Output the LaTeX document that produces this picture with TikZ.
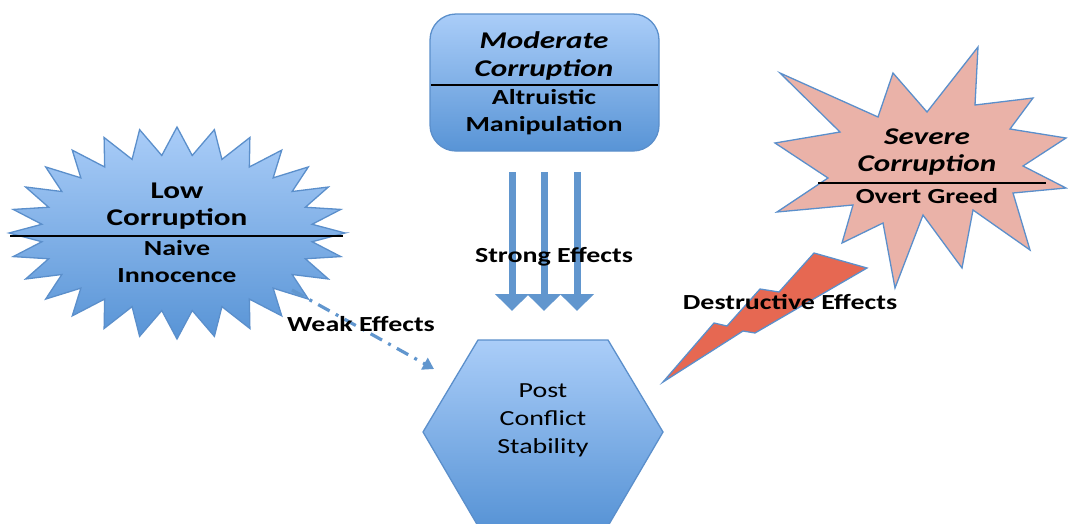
\documentclass[tikz,border=0pt]{standalone}
\usepackage{fontspec}
\newfontfamily\calw[FakeStretch=1.3]{Carlito}
\usetikzlibrary{arrows.meta}
\definecolor{bordblue}{RGB}{91,143,203}
\definecolor{lightblue}{RGB}{170,205,248}
\definecolor{darkblue}{RGB}{88,148,214}
\definecolor{arrblue}{RGB}{97,150,206}
\definecolor{pinkfill}{RGB}{234,178,168}
\definecolor{boltred}{RGB}{230,104,82}
\begin{document}
\begin{tikzpicture}[x=1pt,y=-1pt,
  shapefill/.style={top color=lightblue,bottom color=darkblue,draw=bordblue,line width=1.3pt,line join=miter},
  divider/.style={draw=black,line width=1.8pt},
  txt/.style={font=\calw\fontsize{21.5}{27}\selectfont\bfseries,align=center,inner sep=0pt},
  ttxt/.style={font=\calw\fontsize{24}{27}\selectfont\bfseries,align=center,inner sep=0pt},
  itxt/.style={font=\calw\fontsize{24}{27.5}\selectfont\bfseries\itshape,align=center,inner sep=0pt},
  rtxt/.style={font=\calw\fontsize{21.5}{28}\selectfont,align=center,inner sep=0pt},
  strongarr/.style={draw=arrblue,line width=7pt,-{Triangle[width=33pt,length=17pt]}},
  weakarr/.style={draw=arrblue,line width=3.2pt,dash pattern=on 13pt off 7pt on 3pt off 7pt,-{Triangle[width=13pt,length=11pt]}},
]
\useasboundingbox (0,0) rectangle (1068,523);

% ---- Low corruption starburst
\path[shapefill] ({177+168},233)
  \foreach \i in {0,...,27}{
    -- ({177+136*cos(\i*360/28+180/28)},{233+78*sin(\i*360/28+180/28)})
    -- ({177+168*cos(\i*360/28+360/28)},{233+106*sin(\i*360/28+360/28)})
  } -- cycle;
\coordinate (lowL) at (10,236);
\coordinate (lowR) at (343,236);
\draw[divider] (lowL) -- (lowR);
\node[ttxt] (low) at (177,206) {Low\\Corruption};
\node[txt] (lowsub) at (177,262) {Naive\\Innocence};

% ---- Moderate corruption box
\path[shapefill,rounded corners=26pt] (430,14) rectangle (659,151);
\coordinate (modL) at (431,85);
\coordinate (modR) at (658,85);
\draw[divider] (modL) -- (modR);
\node[itxt] (mod) at (544,56) {Moderate\\Corruption};
\node[txt] (modsub) at (544,112) {Altruistic\\Manipulation};

% ---- Severe corruption starburst
\path[fill=pinkfill,draw=bordblue,line width=1.3pt,line join=miter]
  (780,73) -- (878,117) -- (893,73) -- (927,112) -- (978,47) -- (975,105)
  -- (1033,98) -- (1010,129) -- (1066,138) -- (1023,166) -- (1066,188)
  -- (1013,193) -- (1030,250) -- (973,210) -- (962,268) -- (923,215)
  -- (895,288) -- (883,223) -- (842,243) -- (853,205) -- (777,212)
  -- (828,178) -- (775,143) -- (840,132) -- cycle;
\coordinate (sevL) at (818,183);
\coordinate (sevR) at (1046,183);
\draw[divider] (sevL) -- (sevR);
\node[itxt] (sev) at (927,152) {Severe\\Corruption};
\node[txt] (sevsub) at (927,196) {Overt Greed};

% ---- Post conflict stability hexagon
\path[shapefill] (478,340) -- (608,340) -- (663,432) -- (608,526) -- (478,526) -- (423,432) -- cycle;
\node[rtxt] (post) at (543,420) {Post\\Conflict\\Stability};

% ---- Strong effects arrows
\coordinate (s1a) at (512,172); \coordinate (s1b) at (512,311);
\coordinate (s2a) at (544,172); \coordinate (s2b) at (544,311);
\coordinate (s3a) at (577,172); \coordinate (s3b) at (577,311);
\draw[strongarr] (s1a) -- (s1b);
\draw[strongarr] (s2a) -- (s2b);
\draw[strongarr] (s3a) -- (s3b);
\node[txt] (strong) at (554,257) {Strong Effects};

% ---- Weak effects dash-dot arrow
\coordinate (wA) at (292,290);
\coordinate (wB) at (434,369);
\draw[weakarr] (wA) -- (wB);
\node[txt] (weak) at (361,324) {Weak Effects};

% ---- Destructive effects lightning bolt
\path[fill=boltred,draw=bordblue,line width=1.3pt,line join=miter]
  (663,382) -- (714,323) -- (727,326) -- (760,289) -- (779,292) -- (814,253)
  -- (867,268) -- (755,333) -- (743,331) -- cycle;
\node[txt] (destr) at (790,302) {Destructive Effects};
\end{tikzpicture}
\end{document}
